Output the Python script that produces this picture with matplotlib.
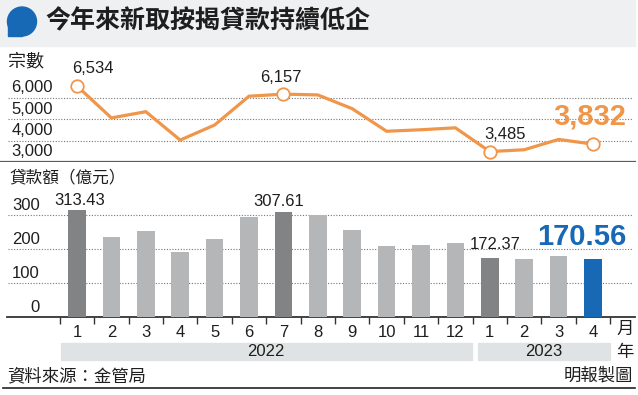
import matplotlib
matplotlib.use('Agg')
import matplotlib.pyplot as plt
import matplotlib.transforms as mtransforms
from matplotlib.patches import Rectangle, Circle
from matplotlib.lines import Line2D

# data
months = ['1', '2', '3', '4', '5', '6', '7', '8', '9', '10', '11', '12', '1', '2', '3', '4']
years = ['2022', '2023']
year_first = [0, 12]
year_last = [11, 15]
cases = [6534, 5050, 5340, 4020, 4720, 6060, 6157, 6120, 5480, 4430, 4500, 4590, 3485, 3570, 4050, 3832]
loans = [313.43, 235, 253, 190, 228, 292, 307.61, 299, 255, 208, 210, 216, 172.37, 171, 179, 170.56]
case_marked = [0, 6, 12, 15]
loan_dark = [0, 6, 12]
loan_latest = 15
case_ticks = [3000, 4000, 5000, 6000]
loan_ticks = [0, 100, 200, 300]

title = '今年來新取按揭貸款持續低企'
case_unit = '宗數'
loan_unit = '貸款額（億元）'
source = '資料來源：金管局'
credit = '明報製圖'

ORANGE = '#f0964a'
BLUE = '#1769b5'
DARK = '#828385'
LIGHT = '#b5b6b8'
TXT = '#1e1e1e'
CJK = ['Noto Sans CJK TC', 'DejaVu Sans']
NUM = ['Liberation Sans', 'DejaVu Sans']
NARROW = ['Liberation Sans Narrow', 'Liberation Sans', 'DejaVu Sans']

W, H = 638, 395
fig = plt.figure(figsize=(W / 100, H / 100), dpi=100)
fig.patch.set_facecolor('white')

def fy(y):  # pixel row from top -> figure fraction
    return 1 - y / H

# title bar
fig.add_artist(Rectangle((0, fy(46)), 635 / W, 46 / H, transform=fig.transFigure,
                         color='#eef0f1', zorder=0))
pix = mtransforms.IdentityTransform()
fig.add_artist(Circle((22, H - 21.5), 14.5, transform=pix, color=BLUE, zorder=1))
fig.add_artist(Rectangle((7.5, H - 36), 14.5, 14.5, transform=pix, color=BLUE, zorder=1))
fig.text(45 / W, fy(21), title, fontsize=18, fontweight='bold', family=CJK,
         color=TXT, va='center', ha='left')

# category position -> pixel: first at 77px, step 34.4px
step = 34.4
xlim = (-77 / step, (W - 77) / step)
x = list(range(len(months)))

# ---- top: number of cases
ax1 = fig.add_axes([0, fy(162), 1, (162 - 46) / H])
ax1.set_xlim(*xlim)
ax1.set_ylim(3000, 3000 + (162 - 46) * 1000 / 21.5)
ax1.set_axis_off()
for v in case_ticks[1:]:
    ax1.axhline(v, xmin=8 / W, xmax=632 / W, color='#777777', lw=0.8, ls=(0, (1, 1.5)), zorder=1)
ax1.axhline(case_ticks[0], xmin=0, xmax=635 / W, color='#5a5a5a', lw=1.6, zorder=1)
ax1.plot(x, cases, color=ORANGE, lw=2.3, zorder=3, solid_joinstyle='miter')
ax1.plot([x[i] for i in case_marked], [cases[i] for i in case_marked], 'o', ms=9,
         mfc='white', mec=ORANGE, mew=1.3, zorder=4)
tr1 = mtransforms.offset_copy(mtransforms.blended_transform_factory(fig.transFigure, ax1.transData),
                              fig=fig, y=10, units='dots')
for v in case_ticks:
    ax1.text(53 / W, v, f'{v:,}', transform=tr1, ha='right', va='center',
             fontsize=12, family=NUM, color=TXT)
fig.text(8 / W, fy(61), case_unit, fontsize=13, family=CJK, color=TXT, va='center')

case_offsets = {0: (16, 17.5), 6: (-3, 17), 12: (15, 17.5)}
for i, (dx, dy) in case_offsets.items():
    ax1.annotate(f'{cases[i]:,}', (x[i], cases[i]), xytext=(dx, dy), textcoords='offset pixels',
                 ha='center', va='center', fontsize=12, family=NUM, color=TXT)
ax1.annotate(f'{cases[15]:,}', (x[15], cases[15]), xytext=(-3, 28), textcoords='offset pixels',
             ha='center', va='center', fontsize=21, fontweight='bold', family=NUM, color=ORANGE)

# ---- bottom: loan amount
ax2 = fig.add_axes([0, fy(316.7), 1, (316.7 - 162) / H])
ax2.set_xlim(*xlim)
ax2.set_ylim(0, (316.7 - 162) / 34 * 100)
ax2.patch.set_visible(False)
for s in ['top', 'left', 'right']:
    ax2.spines[s].set_visible(False)
ax2.spines['bottom'].set_color('#333333')
ax2.spines['bottom'].set_linewidth(1.3)
ax2.spines['bottom'].set_bounds(-70 / step, (635 - 77) / step)
ax2.set_yticks([])
for v in loan_ticks[1:]:
    ax2.axhline(v, xmin=8 / W, xmax=632 / W, color='#777777', lw=0.8, ls=(0, (1, 1.5)), zorder=1)

colors = [LIGHT] * len(loans)
for i in loan_dark:
    colors[i] = DARK
colors[loan_latest] = BLUE
ax2.bar(x, loans, width=0.51, color=colors, zorder=3)

tr2 = mtransforms.offset_copy(mtransforms.blended_transform_factory(fig.transFigure, ax2.transData),
                              fig=fig, y=9, units='dots')
for v in loan_ticks:
    ax2.text(40 / W, v, str(v), transform=tr2, ha='right', va='center',
             fontsize=12, family=NUM, color=TXT)
fig.text(9 / W, fy(178), loan_unit, fontsize=12, family=CJK, color=TXT, va='center')

loan_offsets = {0: (3, 10), 6: (-4.5, 11), 12: (5, 14)}
for i, (dx, dy) in loan_offsets.items():
    ax2.annotate(f'{loans[i]:.2f}', (x[i], loans[i]), xytext=(dx, dy), textcoords='offset pixels',
                 ha='center', va='center', fontsize=12, family=NUM, color=TXT)
ax2.annotate(f'{loans[loan_latest]:.2f}', (x[loan_latest], loans[loan_latest]), xytext=(-11, 22),
             textcoords='offset pixels', ha='center', va='center', fontsize=21,
             fontweight='bold', family=NUM, color=BLUE)

# x axis: ticks on boundaries, month labels centred
ax2.set_xticks([i - 0.5 for i in range(len(months) + 1)])
ax2.set_xticklabels([])
ax2.tick_params(axis='x', which='major', length=5, width=1, color='#333333', direction='out')
ax2.set_xticks(x, minor=True)
ax2.set_xticklabels(months, minor=True, fontsize=12, family=NARROW, color=TXT)
ax2.tick_params(axis='x', which='minor', length=0, pad=6)
fig.text(625 / W, fy(329), '月', fontsize=12.5, family=CJK, color=TXT, ha='center', va='center')

# year bands
band = mtransforms.blended_transform_factory(ax2.transData, fig.transFigure)
for k, yr in enumerate(years):
    left = year_first[k] - 0.5 + (0.15 if k > 0 else 0.03)
    right = year_last[k] + 0.5 - (0.03 if k == 0 else 0)
    ax2.add_artist(Rectangle((left, fy(360)), right - left, 17.3 / H, transform=band,
                             color='#e0e3e3', clip_on=False, zorder=0))
    ax2.text((left + right) / 2, fy(352), yr, transform=band, ha='center', va='center',
             fontsize=12, family=NARROW, color=TXT)
fig.text(625 / W, fy(352), '年', fontsize=12.5, family=CJK, color=TXT, ha='center', va='center')

# footer
fig.text(7 / W, fy(376), source, fontsize=12.5, family=CJK, color=TXT, va='center')
fig.text(633 / W, fy(376), credit, fontsize=12.5, family=CJK, color=TXT, va='center', ha='right')
fig.add_artist(Line2D([3 / W, 635 / W], [fy(388), fy(388)], transform=fig.transFigure,
                      color='#222222', lw=1.2))

fig.savefig('out.png', dpi=100)
